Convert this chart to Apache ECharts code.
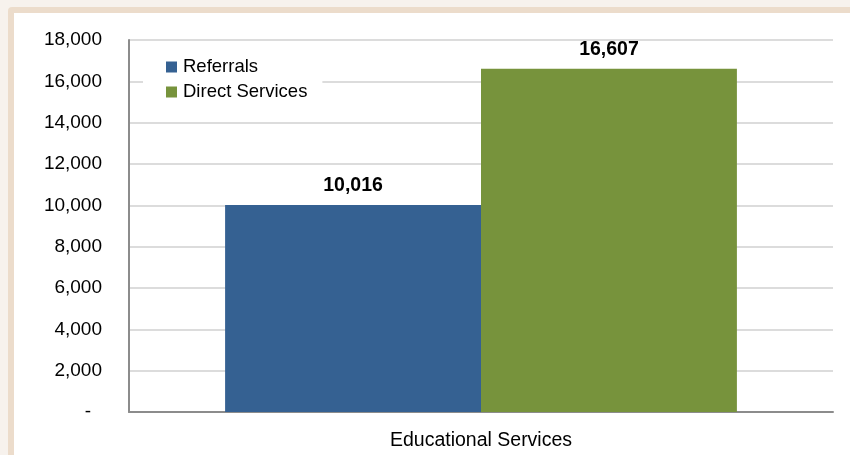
<!DOCTYPE html>
<html>
<head>
<meta charset="utf-8">
<script src="https://cdn.jsdelivr.net/npm/echarts@6/dist/echarts.min.js"></script>
<style>
  html, body { margin: 0; padding: 0; background: #f7f2ed; }
  #main { width: 850px; height: 455px; }
</style>
</head>
<body>
<div id="main"></div>
<script>
// 数据
var categories = ['Educational Services'];
var referrals = [10016];
var directServices = [16607];
var yTicks = [0, 2000, 4000, 6000, 8000, 10000, 12000, 14000, 16000, 18000];

var FONT = "'Liberation Sans Narrow', 'Liberation Sans', Arial, sans-serif";

function fmt(v) {
  if (v === 0) return '-';
  return v.toLocaleString('en-US');
}

var chart = echarts.init(document.getElementById('main'));

var option = {
  animation: false,
  backgroundColor: '#f7f2ed',
  graphic: [
    // 米色边框
    { type: 'rect', z: -10, silent: true, shape: { x: 8, y: 7, width: 850, height: 460, r: 4 }, style: { fill: '#ecdccb' } },
    { type: 'rect', z: -9, silent: true, shape: { x: 14, y: 13, width: 850, height: 460 }, style: { fill: '#ffffff' } }
  ],
  grid: {
    left: 129,
    right: 17,
    top: 40,
    bottom: 43
  },
  legend: {
    orient: 'vertical',
    left: 143,
    top: 45,
    data: ['Referrals', 'Direct Services'],
    icon: 'rect',
    itemWidth: 11,
    itemHeight: 11,
    itemGap: 5,
    selectedMode: false,
    backgroundColor: '#ffffff',
    padding: [12, 15, 10, 23],
    textStyle: {
      fontFamily: FONT,
      fontSize: 18.5,
      lineHeight: 20,
      color: '#000',
      padding: [0, 0, 0, 1]
    }
  },
  xAxis: {
    type: 'category',
    data: categories,
    axisLine: { lineStyle: { color: '#8c8c8c', width: 2 } },
    axisTick: { show: false },
    axisLabel: {
      margin: 19,
      fontFamily: FONT,
      fontSize: 19.5,
      color: '#000'
    }
  },
  yAxis: {
    type: 'value',
    min: yTicks[0],
    max: yTicks[yTicks.length - 1],
    interval: yTicks[1] - yTicks[0],
    axisLine: { show: true, lineStyle: { color: '#8c8c8c', width: 2 } },
    axisTick: { show: false },
    splitLine: { lineStyle: { color: '#dcdcdc', width: 2 } },
    axisLabel: {
      margin: 27,
      fontFamily: FONT,
      fontSize: 19,
      color: '#000',
      // 会计格式：零值显示为短横线，稍微靠左
      formatter: function (v) { return v === 0 ? '{z|-}' : fmt(v); },
      rich: {
        z: { fontFamily: FONT, fontSize: 19, color: '#000', padding: [0, 11, 0, 0] }
      }
    }
  },
  series: [
    {
      name: 'Referrals',
      type: 'bar',
      data: referrals,
      barGap: 0,
      barCategoryGap: '27.3%',
      itemStyle: { color: '#356192' },
      label: {
        show: true,
        position: 'top',
        distance: 9,
        fontFamily: FONT,
        fontSize: 19.5,
        fontWeight: 'bold',
        color: '#000',
        formatter: function (p) { return fmt(p.value); }
      }
    },
    {
      name: 'Direct Services',
      type: 'bar',
      data: directServices,
      barGap: 0,
      barCategoryGap: '27.3%',
      itemStyle: { color: '#77933c' },
      label: {
        show: true,
        position: 'top',
        distance: 9,
        fontFamily: FONT,
        fontSize: 19.5,
        fontWeight: 'bold',
        color: '#000',
        formatter: function (p) { return fmt(p.value); }
      }
    }
  ]
};

chart.setOption(option);
</script>
</body>
</html>
